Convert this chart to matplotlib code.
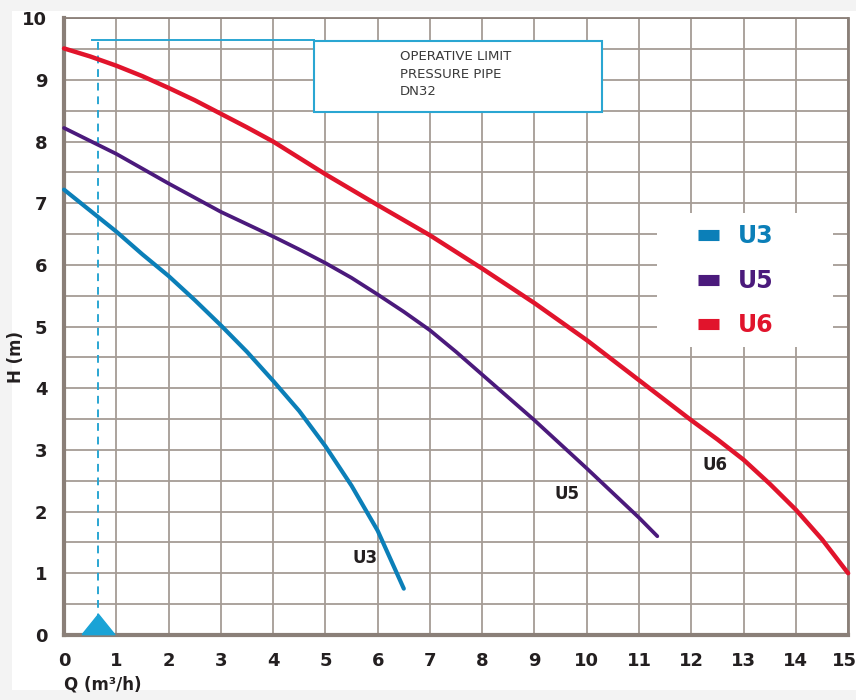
import matplotlib.pyplot as plt
from matplotlib.lines import Line2D
from matplotlib.patches import Rectangle
from matplotlib.transforms import ScaledTranslation

# pump curves
q_u3 = [0, 0.5, 1, 1.5, 2, 2.5, 3, 3.5, 4, 4.5, 5, 5.5, 6, 6.5]
h_u3 = [7.22, 6.88, 6.54, 6.17, 5.82, 5.43, 5.02, 4.59, 4.12, 3.63, 3.06, 2.42, 1.69, 0.75]

q_u5 = [0, 0.5, 1, 1.5, 2, 3, 4, 4.5, 5, 5.5, 6, 6.5, 7, 7.5, 8, 9, 10, 11, 11.35]
h_u5 = [8.22, 8.01, 7.8, 7.56, 7.32, 6.86, 6.46, 6.25, 6.03, 5.79, 5.52, 5.24, 4.94, 4.59, 4.22, 3.48, 2.7, 1.9, 1.6]

q_u6 = [0, 0.5, 1, 1.5, 2, 2.5, 3, 3.5, 4, 5, 6, 7, 8, 9, 10, 11, 12, 12.5, 13, 13.5, 14, 14.5, 15]
h_u6 = [9.51, 9.38, 9.23, 9.06, 8.87, 8.67, 8.45, 8.23, 8.0, 7.47, 6.97, 6.48, 5.94, 5.38, 4.78,
        4.13, 3.48, 3.17, 2.84, 2.45, 2.03, 1.55, 1.0]

series_names = ['U3', 'U5', 'U6']
series_colors = ['#0b7fb8', '#4b1a7c', '#e1142c']

# operative limit of the DN32 pressure pipe
limit_q = 0.65
limit_h = 9.64
box_q = [4.78, 10.29]
box_h = [8.48, 9.63]
box_text = 'OPERATIVE LIMIT\nPRESSURE PIPE\nDN32'

# curve labels
label_q = [5.76, 9.62, 12.45]
label_h = [1.25, 2.29, 2.76]

grid_color = '#a59c95'
spine_color = '#8a7f78'
text_color = '#231f20'
limit_color = '#2aa6d2'

fig = plt.figure(figsize=(8.56, 7), dpi=100, facecolor='#f3f3f3')
fig.patches.append(Rectangle((0.014, 0.015), 0.986, 0.97, transform=fig.transFigure,
                             facecolor='white', edgecolor='none', zorder=-10))
ax = fig.add_axes([0.0748, 0.093, 0.916, 0.881])
ax.set_facecolor('white')

ax.set_xlim(0, 15)
ax.set_ylim(0, 10)
ax.set_xticks(range(0, 16))
ax.set_yticks(range(0, 11))
ax.set_yticks([i + 0.5 for i in range(10)], minor=True)
ax.grid(True, which='both', color=grid_color, linewidth=1.3)
ax.set_axisbelow(True)
ax.tick_params(which='both', length=0)
ax.tick_params(axis='x', pad=12)
ax.tick_params(axis='y', pad=12)
for lab in ax.get_xticklabels() + ax.get_yticklabels():
    lab.set_fontweight('bold')
    lab.set_fontsize(13)
    lab.set_color(text_color)
last = ax.get_xticklabels()[-1]
last.set_transform(last.get_transform() + ScaledTranslation(-4 / 100, 0, fig.dpi_scale_trans))

ax.spines['left'].set_linewidth(3)
ax.spines['bottom'].set_linewidth(3)
ax.spines['right'].set_linewidth(2)
ax.spines['top'].set_linewidth(1.3)
for s in ax.spines.values():
    s.set_color(spine_color)

ax.set_xlabel('Q (m³/h)', loc='left', fontsize=12, fontweight='bold', color=text_color, labelpad=4)
ax.set_ylabel('H (m)', fontsize=12, fontweight='bold', color=text_color)
ax.yaxis.set_label_coords(-0.05, 0.45)

# operative limit marker
ax.plot([limit_q, limit_q], [0, limit_h], color=limit_color, linestyle=(0, (4, 3)), linewidth=1.4, zorder=3)
ax.plot([limit_q - 0.12, box_q[0]], [limit_h, limit_h], color=limit_color, linewidth=1.4, zorder=3)
tri = [(-1, -0.62), (1, -0.62), (0, 0.62), (-1, -0.62)]
ax.plot([limit_q], [0.17], marker=tri, markersize=23.5, color='#1aa3d6', clip_on=False, zorder=6)
ax.add_patch(Rectangle((box_q[0], box_h[0]), box_q[1] - box_q[0], box_h[1] - box_h[0],
                       facecolor='white', edgecolor=limit_color, linewidth=1.5, zorder=4))
ax.text(6.43, (box_h[0] + box_h[1]) / 2 + 0.04, box_text, fontsize=9.5, color='#3a3a3a',
        ha='left', va='center', linespacing=1.45, zorder=5)

curves = [(q_u3, h_u3), (q_u5, h_u5), (q_u6, h_u6)]
widths = [3.0, 2.7, 3.2]
for (q, h), name, col, lw in zip(curves, series_names, series_colors, widths):
    ax.plot(q, h, color=col, linewidth=lw, solid_capstyle='round', solid_joinstyle='round',
            label=name, zorder=5, clip_on=False)

for name, x, y in zip(series_names, label_q, label_h):
    ax.text(x, y, name, fontsize=12, fontweight='bold', color=text_color, ha='center', va='center')

# white panel behind the legend hides the grid
ax.add_patch(Rectangle((0.756, 0.467), 0.225, 0.217, transform=ax.transAxes,
                       facecolor='white', edgecolor='none', zorder=2))
handles = [Line2D([], [], color=c, linewidth=8, solid_capstyle='butt') for c in series_colors]
leg = ax.legend(handles, series_names, loc='center left', bbox_to_anchor=(0.8087, 0.574),
                frameon=False, borderpad=0, borderaxespad=0,
                handlelength=0.9, handletextpad=0.8, labelspacing=0.87,
                prop={'weight': 'bold', 'size': 17})
for txt, c in zip(leg.get_texts(), series_colors):
    txt.set_color(c)

fig.savefig('out.png', dpi=100, facecolor=fig.get_facecolor())
